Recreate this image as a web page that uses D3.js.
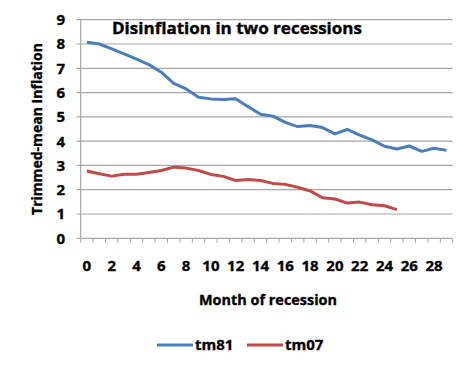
<!DOCTYPE html>
<html lang="en">
<head>
<meta charset="utf-8">
<title>Disinflation in two recessions</title>
<script src="https://cdn.jsdelivr.net/npm/d3@7"></script>
<style>
  body { margin: 0; background: #fff; }
  text { font-family: "Open Sans", Lato, "Liberation Sans", sans-serif; font-weight: bold; fill: #000;
         stroke: #000; stroke-width: 0.35px; }
</style>
</head>
<body>
<script>
// data
var months = d3.range(0, 30);
var tickLabels = d3.range(0, 30, 2);
var tm81 = [8.07, 8.0, 7.8, 7.59, 7.38, 7.15, 6.84, 6.38, 6.15, 5.81,
            5.74, 5.71, 5.75, 5.42, 5.11, 5.03, 4.77, 4.6, 4.64, 4.56,
            4.3, 4.48, 4.25, 4.05, 3.79, 3.68, 3.8, 3.58, 3.71, 3.62];
var tm07 = [2.77, 2.66, 2.56, 2.64, 2.64, 2.71, 2.79, 2.93, 2.89, 2.79,
            2.63, 2.55, 2.38, 2.42, 2.38, 2.26, 2.22, 2.1, 1.95, 1.67,
            1.62, 1.45, 1.49, 1.38, 1.34, 1.18];
var yTicks = [0, 1, 2, 3, 4, 5, 6, 7, 8, 9];

var W = 474, H = 372;
var margin = {top: 19.7, left: 80.7, right: 21.3, bottom: 133.7};
var width = W - margin.left - margin.right,
    height = H - margin.top - margin.bottom;

var svg = d3.select("body").append("svg")
  .attr("width", W).attr("height", H);

var g = svg.append("g").attr("transform", "translate(" + margin.left + "," + margin.top + ")");

var x = d3.scaleBand().domain(months).range([0, width]).padding(0);
var y = d3.scaleLinear().domain([0, 9]).range([height, 0]);

// gridlines (with small outside ticks left of the axis)
g.selectAll("line.grid")
  .data(yTicks)
  .enter().append("line")
  .attr("class", "grid")
  .attr("x1", -4).attr("x2", d => d > 0 ? width : 0)
  .attr("y1", d => y(d)).attr("y2", d => y(d))
  .attr("stroke", "#a6a6a6").attr("stroke-width", 1.2);

// y axis line
g.append("line").attr("x1", 0).attr("x2", 0).attr("y1", 0).attr("y2", height)
  .attr("stroke", "#a6a6a6").attr("stroke-width", 1.2);

// x axis line + ticks at band edges
g.append("line").attr("x1", 0).attr("x2", width).attr("y1", height).attr("y2", height)
  .attr("stroke", "#a6a6a6").attr("stroke-width", 1.2);
g.selectAll("line.xtick")
  .data(d3.range(0, 31))
  .enter().append("line")
  .attr("class", "xtick")
  .attr("x1", i => i * x.step()).attr("x2", i => i * x.step())
  .attr("y1", height).attr("y2", height + 4.5)
  .attr("stroke", "#a6a6a6").attr("stroke-width", 1);

// y tick labels
g.selectAll("text.ylab")
  .data(yTicks)
  .enter().append("text")
  .attr("class", "ylab")
  .attr("x", -15.5).attr("y", d => y(d))
  .attr("dy", "0.36em")
  .attr("text-anchor", "end")
  .style("font-size", "15px")
  .text(d => d);

// x tick labels
g.selectAll("text.xlab")
  .data(tickLabels)
  .enter().append("text")
  .attr("class", "xlab")
  .attr("x", d => x(d) + x.bandwidth() / 2)
  .attr("y", 271.5 - margin.top)
  .attr("text-anchor", "middle")
  .style("font-size", "15px")
  .text(d => d);

// lines
var line = d3.line()
  .x((d, i) => x(months[i]) + x.bandwidth() / 2)
  .y(d => y(d));

g.append("path").datum(tm81)
  .attr("d", line).attr("fill", "none")
  .attr("stroke", "#4a7ebb").attr("stroke-width", 3).attr("stroke-linejoin", "round");
g.append("path").datum(tm07)
  .attr("d", line).attr("fill", "none")
  .attr("stroke", "#be4b48").attr("stroke-width", 3).attr("stroke-linejoin", "round");

// title
svg.append("text")
  .attr("x", 112).attr("y", 33.5)
  .attr("textLength", 250).attr("lengthAdjust", "spacingAndGlyphs")
  .style("font-size", "15.5px")
  .text("Disinflation in two recessions");

// axis titles
svg.append("text")
  .attr("x", 199).attr("y", 305)
  .attr("textLength", 138).attr("lengthAdjust", "spacingAndGlyphs")
  .style("font-size", "14.5px")
  .text("Month of recession");

svg.append("text")
  .attr("transform", "translate(41.5,215) rotate(-90)")
  .attr("textLength", 172).attr("lengthAdjust", "spacingAndGlyphs")
  .style("font-size", "15px")
  .text("Trimmed-mean Inflation");

// legend
var legend = svg.append("g");
var items = [{name: "tm81", color: "#4a7ebb", x: 157}, {name: "tm07", color: "#be4b48", x: 247}];
items.forEach(function(it) {
  legend.append("line")
    .attr("x1", it.x).attr("x2", it.x + 36)
    .attr("y1", 345).attr("y2", 345)
    .attr("stroke", it.color).attr("stroke-width", 3);
  legend.append("text")
    .attr("x", it.x + 38).attr("y", 345).attr("dy", "0.36em")
    .style("font-size", "15px")
    .text(it.name);
});
</script>
</body>
</html>
